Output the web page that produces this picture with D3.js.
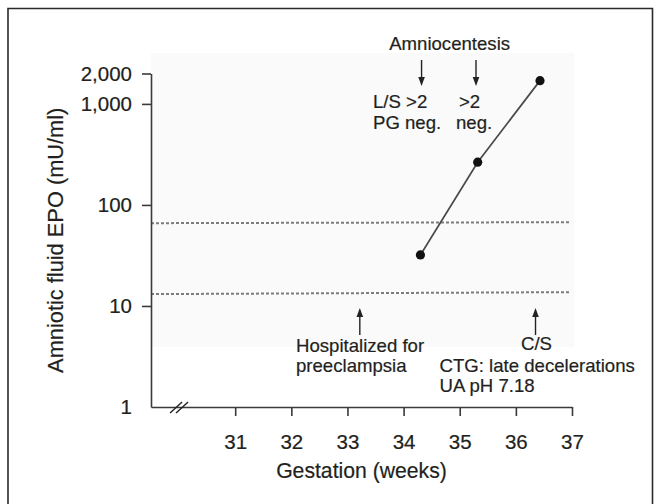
<!DOCTYPE html>
<html>
<head>
<meta charset="utf-8">
<script src="https://cdn.jsdelivr.net/npm/d3@7"></script>
<style>
  html, body { margin: 0; padding: 0; background: #fff; }
  svg { display: block; }
  text { font-family: "Liberation Sans", Arial, sans-serif; fill: #231f20; stroke: #231f20; stroke-width: 0.2px; }
</style>
</head>
<body>
<div id="chart"></div>
<script>
// ---- data ----
const weeks = [34.3, 35.32, 36.43];
const epo = [32, 265, 1700];
const xTicks = [31, 32, 33, 34, 35, 36, 37];
const yTicks = [1, 10, 100, 1000, 2000];
const upperRefWeeks = [29.5, 36.96];
const upperRefValues = [66, 67.5];
const lowerRefWeeks = [29.5, 36.96];
const lowerRefValues = [13.1, 13.7];
const amnioWeeks = [34.32, 35.29];
const eventWeeks = [33.22, 36.35];
const xTitle = "Gestation (weeks)";
const yTitle = "Amniotic fluid EPO (mU/ml)";
const topLabel = "Amniocentesis";
const amnioLabels = [["L/S >2", "PG neg."], [">2", "neg."]];
const hospLabel = ["Hospitalized for", "preeclampsia"];
const csLabel = "C/S";
const csDetail = ["CTG: late decelerations", "UA pH 7.18"];

// ---- layout ----
const W = 662, H = 504;
const svg = d3.select("#chart").append("svg").attr("width", W).attr("height", H);

const x = d3.scaleLinear().domain([29.5, 37]).range([151, 572]);
const y = d3.scaleLog().domain([1, 2000]).range([407, 73.5]);

// frame
svg.append("path")
  .attr("d", `M8,${H} L8,8.5 L652.5,8.5 L652.5,${H}`)
  .attr("fill", "none").attr("stroke", "#2a2a2a").attr("stroke-width", 1.6);

// light plot background
svg.append("rect")
  .attr("x", x(29.5)).attr("y", 53)
  .attr("width", x(37.04) - x(29.5)).attr("height", 347 - 53)
  .attr("fill", "#fafafa");

// reference dashed lines
const refLine = d3.line().x(d => x(d[0])).y(d => y(d[1]));
[[upperRefWeeks, upperRefValues], [lowerRefWeeks, lowerRefValues]].forEach(([w, v]) => {
  svg.append("path")
    .attr("d", refLine(d3.zip(w, v)))
    .attr("fill", "none").attr("stroke", "#7c7c7c")
    .attr("stroke-width", 2).attr("stroke-dasharray", "3,2");
});

// axes
const axisColor = "#3a3a3a";
const gx = svg.append("g").attr("transform", `translate(0,${y(1)})`)
  .call(d3.axisBottom(x).tickValues(xTicks).tickSize(9).tickSizeOuter(0).tickPadding(18).tickFormat(d3.format("d")));
gx.selectAll("text").attr("font-size", 20.5).style("font-family", "Liberation Sans, Arial, sans-serif").attr("fill", "#231f20");

const gy = svg.append("g").attr("transform", `translate(${x(29.5)},0)`)
  .call(d3.axisLeft(y).tickValues(yTicks).tickSize(9).tickSizeOuter(0).tickPadding(10).tickFormat(d3.format(",")));
gy.selectAll("text").attr("font-size", 20.5).style("font-family", "Liberation Sans, Arial, sans-serif").attr("fill", "#231f20");
gy.selectAll(".tick").filter(d => d === 1).select("line").remove();

[gx, gy].forEach(g => {
  g.select(".domain").attr("stroke", axisColor).attr("stroke-width", 1.6);
  g.selectAll(".tick line").attr("stroke", axisColor).attr("stroke-width", 1.6);
});

// axis break
[0, 6].forEach(off => {
  const bx = x(30.0) + off;
  svg.append("line")
    .attr("x1", bx - 9).attr("y1", y(1) + 6)
    .attr("x2", bx + 3).attr("y2", y(1) - 5)
    .attr("stroke", "#222").attr("stroke-width", 1.4);
});

// data line and points
const line = d3.line().x(d => x(d[0])).y(d => y(d[1]));
const pts = d3.zip(weeks, epo);
svg.append("path").attr("d", line(pts))
  .attr("fill", "none").attr("stroke", "#4a4a4a").attr("stroke-width", 1.7);
svg.selectAll("circle.pt").data(pts).join("circle")
  .attr("cx", d => x(d[0])).attr("cy", d => y(d[1])).attr("r", 4.6).attr("fill", "#111");

// arrows
function arrow(xp, yFrom, yTo) {
  const dir = yTo > yFrom ? 1 : -1;
  svg.append("line").attr("x1", xp).attr("x2", xp)
    .attr("y1", yFrom).attr("y2", yTo - dir * 7)
    .attr("stroke", "#222").attr("stroke-width", 1.4);
  svg.append("path")
    .attr("d", `M${xp - 3.3},${yTo - dir * 9} L${xp + 3.3},${yTo - dir * 9} L${xp},${yTo} Z`)
    .attr("fill", "#222");
}
amnioWeeks.forEach(w => arrow(x(w), 60, 86));
eventWeeks.forEach(w => arrow(x(w), 335, 308));

// annotation text
const fs = 18.6;
svg.append("text").attr("x", x(34.82)).attr("y", 50).attr("text-anchor", "middle")
  .attr("font-size", fs).text(topLabel);

const amnioX = [373, 456];
amnioLabels.forEach((lines, i) => {
  lines.forEach((t, j) => {
    svg.append("text").attr("x", amnioX[i] + (i === 1 && j === 0 ? 3 : 0))
      .attr("y", 108 + j * 21).attr("font-size", fs).text(t);
  });
});

hospLabel.forEach((t, j) => {
  svg.append("text").attr("x", 296).attr("y", 352 + j * 20).attr("font-size", fs).text(t);
});

svg.append("text").attr("x", x(eventWeeks[1]) + 1).attr("y", 350).attr("text-anchor", "middle")
  .attr("font-size", fs).text(csLabel);
csDetail.forEach((t, j) => {
  svg.append("text").attr("x", 439.5).attr("y", 372 + j * 20).attr("font-size", fs).text(t);
});

// axis titles
svg.append("text").attr("x", (x(29.5) + x(37)) / 2).attr("y", 478)
  .attr("text-anchor", "middle").attr("font-size", 21.2).text(xTitle);
svg.append("text")
  .attr("transform", `translate(63,${(y(1) + y(2000)) / 2}) rotate(-90)`)
  .attr("text-anchor", "middle").attr("font-size", 21.8).text(yTitle);
</script>
</body>
</html>
